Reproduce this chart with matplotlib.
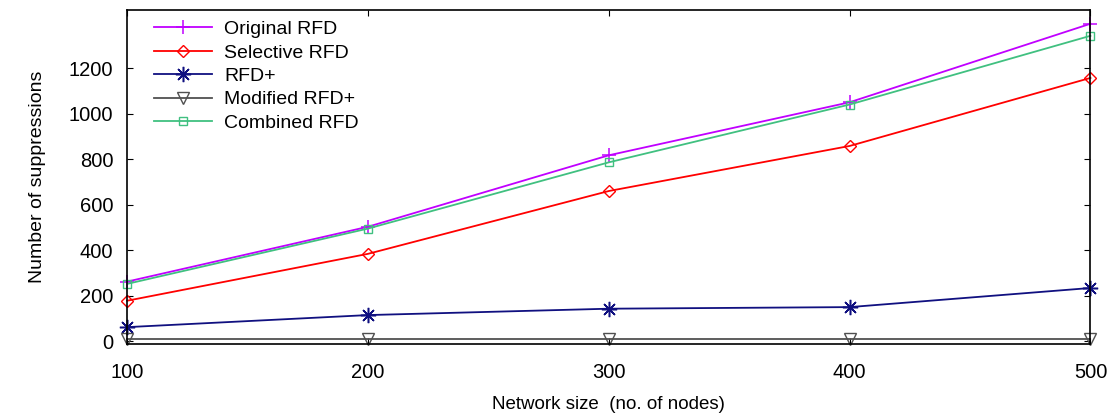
import matplotlib.pyplot as plt

plt.rcParams['font.family'] = ['Liberation Sans', 'DejaVu Sans']

# network sizes
nodes = [100, 200, 300, 400, 500]

# number of suppressions per scheme
original_rfd = [262, 503, 817, 1050, 1395]
selective_rfd = [178, 384, 660, 858, 1157]
rfd_plus = [62, 115, 143, 150, 234]
modified_rfd_plus = [10, 10, 10, 10, 10]
combined_rfd = [252, 495, 786, 1040, 1342]

labels = ["Original RFD", "Selective RFD", "RFD+", "Modified RFD+", "Combined RFD"]

fig = plt.figure(figsize=(11.15, 4.2), dpi=100)
ax = fig.add_axes([0.114, 0.181, 0.864, 0.795])

ax.plot(nodes, original_rfd, color="#c000ff", lw=1.3, marker="+", ms=10, mew=1.1,
        label=labels[0], clip_on=False)
ax.plot(nodes, selective_rfd, color="#ff0000", lw=1.3, marker="D", ms=6, mfc="none", mew=1.0,
        label=labels[1], clip_on=False)
ax.plot(nodes, rfd_plus, color="#101080", lw=1.3, marker=(8, 2, 0), ms=11, mew=1.1,
        label=labels[2], clip_on=False)
ax.plot(nodes, modified_rfd_plus, color="#505050", lw=1.3, marker="v", ms=8, mfc="none", mew=1.0,
        label=labels[3], clip_on=False)
ax.plot(nodes, combined_rfd, color="#40c080", lw=1.3, marker="s", ms=6, mfc="none", mew=1.0,
        label=labels[4], clip_on=False)

ax.set_xlim(100, 500)
ax.set_ylim(-12, 1455)
ax.set_xticks(nodes)
ax.set_yticks([0, 200, 400, 600, 800, 1000, 1200])
ax.tick_params(direction="in", top=True, right=True, length=4, labelsize=14.5)
ax.tick_params(axis="x", pad=14)
ax.tick_params(axis="y", pad=10)
for s in ax.spines.values():
    s.set_linewidth(1.2)

ax.set_xlabel("Network size  (no. of nodes)", fontsize=13.5, labelpad=10)
ax.set_ylabel("Number of suppressions", fontsize=14, labelpad=16)

ax.legend(loc="upper left", frameon=False, fontsize=14, handlelength=3.0,
          labelspacing=0.3, handletextpad=0.6, borderaxespad=0.0,
          bbox_to_anchor=(0.02, 0.992))

fig.savefig("out.png", dpi=100)
